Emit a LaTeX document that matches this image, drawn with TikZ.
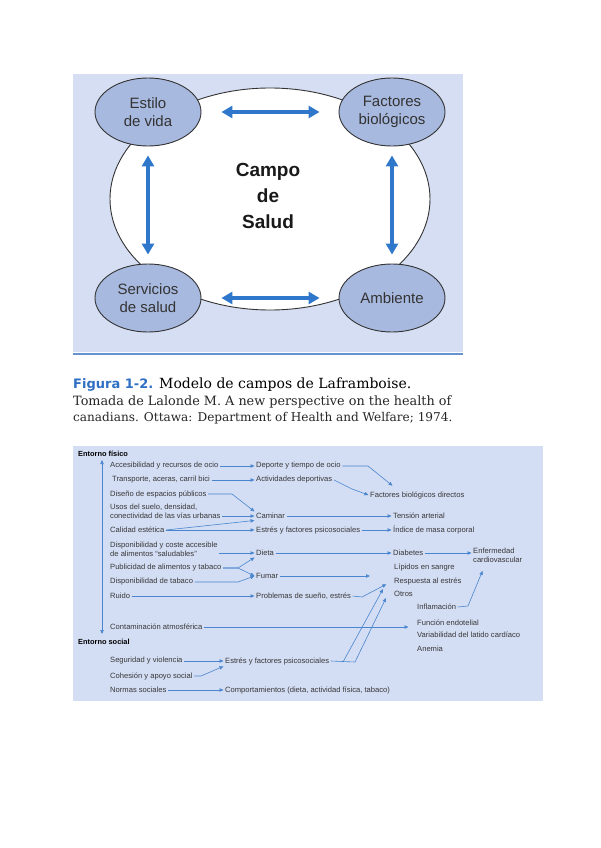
\documentclass[tikz,border=0pt]{standalone}
\usepackage{fontspec}
\setsansfont{Liberation Sans}
\newfontfamily\capserif{DejaVu Serif}
\newfontfamily\capsans{DejaVu Sans}
\usetikzlibrary{arrows.meta,shapes.geometric}
\definecolor{panelblue}{HTML}{D5DEF2}
\definecolor{ovalblue}{HTML}{A8B9DF}
\definecolor{arrowblue}{HTML}{2F77CA}
\definecolor{capblue}{HTML}{2F6FC4}
\definecolor{flowblue}{HTML}{4A86CF}
\definecolor{boxblue}{HTML}{D3DDF3}
\begin{document}
\begin{tikzpicture}[x=1pt,y=-1pt,>={Triangle[length=4pt,width=3.4pt]},
  field/.style={ellipse,draw=black!80,line width=0.9pt,fill=ovalblue,minimum width=106pt,minimum height=68pt,inner sep=0pt,align=center,text=black!80,font=\sffamily\fontsize{15}{18}\selectfont},
  twoway/.style={arrowblue,line width=3.6pt,{Triangle[length=11pt,width=12pt]}-{Triangle[length=11pt,width=12pt]}},
  factor/.style={anchor=west,inner sep=1.5pt,text=black!78,align=left,font=\sffamily\fontsize{7.6}{8.8}\selectfont},
  heading/.style={factor,text=black,font=\sffamily\bfseries\fontsize{7.4}{8.8}\selectfont},
  link/.style={flowblue,line width=0.6pt}]
\useasboundingbox (0,0) rectangle (600,848);
\fill[white] (0,0) rectangle (600,848);
% Upper figure: the four fields round the health field.
\fill[panelblue] (73,74) rectangle (463,352);
\draw[capblue!75,line width=2pt] (73,354)--(463,354);
\draw[fill=white,draw=black!80,line width=0.9pt] (270,199) ellipse [x radius=160pt,y radius=111pt];
\node[font=\sffamily\bfseries\fontsize{19}{26}\selectfont,align=center,text=black!90] (campo) at (268,196) {Campo\\de\\Salud};
\node[field] (estilo) at (148,112) {Estilo\\de vida};
\node[field] (bio) at (392,112) {Factores\\biológicos};
\node[field] (serv) at (148,298) {Servicios\\de salud};
\node[field] (amb) at (392,298) {Ambiente};
\draw[twoway,shorten <=20pt,shorten >=19pt] (estilo.east)--(bio.west);
\draw[twoway,shorten <=20pt,shorten >=19pt] (serv.east)--(amb.west);
\draw[twoway,shorten <=9pt,shorten >=9pt] (estilo.south)--(serv.north);
\draw[twoway,shorten <=9pt,shorten >=9pt] (bio.south)--(amb.north);
% Caption.
\node[anchor=base west,inner sep=0pt,font=\capserif\fontsize{14}{16}\selectfont] (cap) at (73,388)
  {{\capsans\bfseries\fontsize{13}{16}\selectfont\color{capblue}Figura 1-2.} Modelo de campos de Laframboise.};
\node[anchor=base west,inner sep=0pt,font=\capserif\fontsize{12.8}{15}\selectfont,text=black!85] (src1) at (73,405)
  {Tomada de Lalonde M. A new perspective on the health of};
\node[anchor=base west,inner sep=0pt,font=\capserif\fontsize{12.1}{15}\selectfont,text=black!85] (src2) at (73,421)
  {canadians. Ottawa: Department of Health and Welfare; 1974.};
% Lower figure: determinants and their paths.
\fill[boxblue] (73,446) rectangle (543,701);
\node[heading] (fis) at (76.5,454) {Entorno físico};
\node[heading] (soc) at (76.5,642) {Entorno social};
\coordinate (axtop) at (102,460);
\coordinate (axbot) at (102,634);
\draw[link,<->] (axtop)--(axbot);
\node[factor] (acc) at (108.5,466) {Accesibilidad y recursos de ocio};
\node[factor] (trans) at (110.5,480) {Transporte, aceras, carril bici};
\node[factor] (dis) at (108.5,494) {Diseño de espacios públicos};
\node[factor] (usos) at (108.5,511.5) {Usos del suelo, densidad,\\conectividad de las vías urbanas};
\node[factor] (cal) at (108.5,530) {Calidad estética};
\node[factor] (disp) at (108.5,549) {Disponibilidad y coste accesible\\de alimentos “saludables”};
\node[factor] (pub) at (108.5,568) {Publicidad de alimentos y tabaco};
\node[factor] (tab) at (108.5,582) {Disponibilidad de tabaco};
\node[factor] (ruido) at (108.5,596) {Ruido};
\node[factor] (cont) at (108.5,627) {Contaminación atmosférica};
\node[factor] (seg) at (108.5,661) {Seguridad y violencia};
\node[factor] (coh) at (108.5,676) {Cohesión y apoyo social};
\node[factor] (norm) at (108.5,690) {Normas sociales};
\node[factor] (dep) at (254.5,466) {Deporte y tiempo de ocio};
\node[factor] (act) at (254.5,480) {Actividades deportivas};
\node[factor] (cam) at (254.5,516) {Caminar};
\node[factor] (est) at (254.5,530) {Estrés y factores psicosociales};
\node[factor] (dieta) at (254.5,553) {Dieta};
\node[factor] (fum) at (254.5,576) {Fumar};
\node[factor] (prob) at (254.5,596) {Problemas de sueño, estrés};
\node[factor] (ests) at (223.5,661) {Estrés y factores psicosociales};
\node[factor] (comp) at (223.5,690) {Comportamientos (dieta, actividad física, tabaco)};
\node[factor] (fbd) at (368.5,495) {Factores biológicos directos};
\node[factor] (ten) at (391.5,516) {Tensión arterial};
\node[factor] (imc) at (391.5,530) {Índice de masa corporal};
\node[factor] (diab) at (391.5,553) {Diabetes};
\node[factor] (lip) at (392.5,567) {Lípidos en sangre};
\node[factor] (resp) at (392.5,581) {Respuesta al estrés};
\node[factor] (otros) at (392.5,594) {Otros};
\node[factor] (infl) at (415.5,607) {Inflamación};
\node[factor] (func) at (415.5,623) {Función endotelial};
\node[factor] (var) at (415.5,635) {Variabilidad del latido cardíaco};
\node[factor] (anem) at (415.5,649) {Anemia};
\node[factor] (enf) at (471.5,555) {Enfermedad\\cardiovascular};
% Straight paths.
\foreach \a/\b in {acc/dep,trans/act,cam/ten,est/imc,dieta/diab,ruido/prob,seg/ests,norm/comp}{
\draw[link,->] (\a.east)--(\b.west);}
\draw[link,->] (usos.east |- cam.west)--(cam.west);
\draw[link,->] (disp.east |- dieta.west)--(dieta.west);
\draw[link,->] (diab.east)--(diab.east -| enf.west);
\draw[link,->,shorten >=7pt] (cont.east)--(cont.east -| func.west);
% Bent paths.
\draw[link,->] (dep.east)--(368,466)--([xshift=24pt,yshift=4pt]fbd.north west);
\draw[link,->] (act.east)--(352,489)--(fbd.west);
\draw[link,->] (dis.east)--(232,494)--(cam.north west);
\draw[link,->] (cal.east)--(cam.south west);
\draw[link,->] (cal.east)--(est.west);
\draw[link,->] (pub.east)--(238,568)--(dieta.south west);
\draw[link,->] (pub.east)--(238,568)--(fum.west);
\draw[link,->] (tab.east)--(238,582)--(fum.west);
\coordinate (fumend) at (370,576);
\draw[link,->] (fum.east)--(fumend);
\draw[link,->,shorten >=7pt] (prob.east)--(362,597)--(resp.west);
\coordinate (sa) at (343,662);
\coordinate (sb) at (355,662);
\draw[link,->] (ests.east)--(sb)--(386,598);
\draw[link,->] (sa)--(383,589);
\draw[link,->] (infl.east)--(468,606)--([xshift=11pt,yshift=-7pt]enf.south west);
\draw[link,->] (coh.east)--(201,676)--(ests.south west);
\end{tikzpicture}
\end{document}
